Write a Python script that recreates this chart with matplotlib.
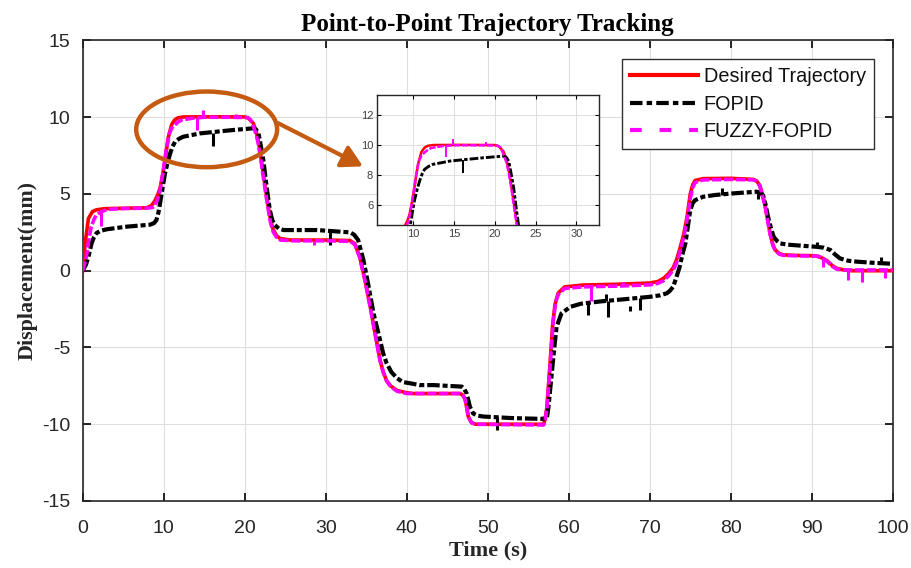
import numpy as np
import matplotlib
matplotlib.use('Agg')
import matplotlib.pyplot as plt
from matplotlib.patches import Ellipse, FancyArrowPatch
from matplotlib.lines import Line2D

# ---------------- data ----------------
t_des = [0, 0.3, 0.7, 1.2, 1.7, 2.5, 3.0, 5, 7.9, 8.5, 8.9, 9.3, 9.55, 9.85, 10.16, 10.57, 11.0, 11.4,
         11.8, 12.5, 16, 20.0, 20.45, 21.06, 21.4, 21.7, 22.0, 22.3, 22.6, 22.9, 23.2, 23.5, 23.9, 24.36,
         25.6, 30, 33.0, 33.6, 34.2, 34.85, 35.5, 36.1, 36.7, 37.1, 37.5, 38.0, 38.8, 40.0, 40.8, 44, 46.6,
         46.9, 47.2, 47.4, 47.6, 48.0, 48.5, 52, 56.9, 57.1, 57.3, 57.7, 58.0, 58.3, 58.7, 59.5, 61.8, 66,
         70, 71.0, 71.7, 72.3, 72.9, 73.3, 73.7, 74.2, 74.6, 75.0, 75.3, 75.6, 76.6, 80, 82.8, 83.2, 83.6,
         84.2, 84.85, 85.2, 85.5, 86.0, 86.5, 88, 90.2, 90.6, 91.2, 91.9, 92.5, 93.1, 94.0, 94.7, 97, 100]
y_des = [0, 1.8, 3.4, 3.85, 3.97, 4.03, 4.05, 4.07, 4.1, 4.25, 4.55, 5.0, 5.4, 6.2, 7.2, 8.7, 9.55, 9.85,
         9.97, 10.02, 10.03, 10.02, 9.95, 9.6, 9.1, 8.4, 7.4, 6.3, 5.2, 4.2, 3.3, 2.7, 2.3, 2.1,
         2.0, 2.0, 1.97, 1.75, 0.9, -0.6, -2.35, -4.1, -5.8, -6.6, -7.15, -7.5, -7.8, -7.95, -8.0, -8.0, -8.0,
         -8.1, -8.35, -8.9, -9.5, -9.9, -10.0, -10.0, -10.0, -9.6, -8.9, -6.0, -3.6, -2.2, -1.45, -1.05, -0.93, -0.88,
         -0.8, -0.7, -0.5, -0.2, 0.2, 0.7, 1.4, 2.4, 3.5, 5.0, 5.6, 5.88, 6.0, 6.02, 5.95, 5.85, 5.55,
         4.4, 2.45, 1.7, 1.35, 1.12, 1.03, 1.0, 0.98, 0.95, 0.85, 0.65, 0.35, 0.15, 0.05, 0.0, 0.0, 0.0]

t_fopid = [0, 0.4, 0.7, 1.1, 1.4, 1.7, 2.2, 2.96, 5.4, 8.3, 8.8, 9.1, 9.35, 9.55, 9.85, 10.16, 10.5, 10.8,
           11.1, 11.4, 11.9, 12.4, 14.5, 18.6, 21.06, 21.4, 21.7, 22.0, 22.3, 22.7, 23.1, 23.4, 23.7, 24.2,
           24.8, 28.9, 33.0, 33.5, 34.0, 34.65, 35.3, 35.9, 36.7, 37.1, 37.5, 38.1, 38.8, 39.5, 40.4, 41.6,
           43.3, 46.8, 47.1, 47.4, 47.8, 48.2, 48.8, 49.5, 53, 56.5, 57.3, 57.5, 57.9, 58.3, 58.5, 59.1, 60.2,
           61.5, 63.9, 67, 70, 71.3, 72.1, 72.5, 72.9, 73.3, 73.7, 74.0, 74.4, 75.0, 75.3, 75.6, 76.6, 78,
           80.3, 83.2, 83.6, 84.0, 84.3, 84.6, 85.0, 85.3, 85.7, 86.1, 87, 89, 90.6, 91.5, 92.3, 92.9, 93.5,
           94.5, 95.6, 97.5, 100]
y_fopid = [0, 0.4, 0.9, 1.8, 2.2, 2.45, 2.6, 2.7, 2.87, 3.0, 3.1, 3.3, 3.8, 4.4, 5.4, 6.35, 7.1, 7.65,
           8.1, 8.4, 8.6, 8.73, 8.95, 9.17, 9.28, 9.2, 8.95, 8.1, 7.2, 5.47, 3.95, 3.3, 2.98, 2.75,
           2.65, 2.65, 2.5, 2.35, 2.0, 0.7, -1.04, -2.78, -4.5, -5.4, -6.0, -6.6, -7.0, -7.25, -7.33, -7.45,
           -7.45, -7.55, -7.7, -8.0, -8.86, -9.3, -9.45, -9.5, -9.6, -9.65, -9.62, -8.86, -6.7, -4.6, -3.65, -2.78, -2.35,
           -2.15, -2.0, -1.85, -1.7, -1.6, -1.47, -1.3, -1.04, -0.4, 0.26, 1.0, 1.78, 3.95, 4.4, 4.6, 4.82, 4.93,
           5.04, 5.15, 5.1, 4.9, 4.3, 3.52, 2.7, 2.21, 1.95, 1.78, 1.7, 1.62, 1.56, 1.5, 1.35, 1.05, 0.8,
           0.65, 0.59, 0.52, 0.45]

t_fuzzy = [0, 0.45, 0.75, 1.06, 1.4, 1.68, 2.3, 3.1, 5, 7.9, 8.6, 8.9, 9.2, 9.5, 9.9, 10.3, 10.7, 11.0,
           11.35, 11.8, 12.2, 13.4, 15, 18, 20.3, 20.7, 21.06, 21.4, 21.7, 22.0, 22.3, 22.6, 22.9, 23.2,
           23.5, 23.9, 24.4, 26, 30, 33.0, 33.6, 34.2, 34.85, 35.5, 36.1, 36.7, 37.1, 37.5, 38.0, 38.8, 40.0,
           44, 46.6, 46.9, 47.2, 47.4, 47.6, 48.0, 48.5, 56.9, 57.1, 57.3, 57.7, 58.1, 58.4, 58.7, 59.5, 61.8,
           66, 70, 71.0, 71.7, 72.3, 72.9, 73.3, 73.7, 74.2, 74.6, 75.0, 75.3, 75.6, 76.6, 80, 82.8, 83.2,
           83.6, 84.2, 84.85, 85.2, 85.5, 86.0, 86.5, 88, 90.8, 91.4, 91.9, 92.5, 93.1, 94.0, 100]
y_fuzzy = [0, 0.9, 2.0, 2.87, 3.35, 3.63, 3.85, 4.0, 4.05, 4.08, 4.12, 4.25, 4.6, 5.1, 6.35, 7.86, 8.95, 9.3,
           9.5, 9.7, 9.82, 9.93, 10.0, 10.0, 9.98, 9.85, 9.4, 8.9, 8.2, 7.2, 6.1, 5.0, 4.0, 3.1,
           2.55, 2.2, 2.0, 1.95, 1.95, 1.92, 1.7, 0.85, -0.65, -2.4, -4.15, -5.85, -6.6, -7.15, -7.55, -7.85, -8.0,
           -8.0, -8.0, -8.1, -8.35, -8.9, -9.5, -9.9, -10.0, -10.05, -9.7, -9.0, -6.2, -3.2, -2.0, -1.55, -1.15, -1.05,
           -1.0, -0.92, -0.82, -0.65, -0.35, 0.05, 0.5, 1.15, 2.2, 3.3, 4.7, 5.4, 5.75, 5.92, 5.95, 5.92, 5.82,
           5.5, 4.3, 2.4, 1.65, 1.3, 1.08, 1.0, 0.98, 0.95, 0.8, 0.6, 0.3, 0.1, 0.05, 0.05]

# measurement spikes: time, start value, tip value
spk_fopid_t = [16.05, 30.5, 51.1, 62.4, 64.6, 64.9, 67.6, 68.8, 78.9, 83.4, 90.6, 98.6]
spk_fopid_a = [9.0, 2.62, -9.55, -2.1, -2.0, -2.0, -2.3, -1.8, 4.95, 5.12, 1.56, 0.48]
spk_fopid_b = [8.15, 1.67, -10.4, -2.9, -1.5, -3.0, -2.6, -2.56, 5.37, 4.7, 1.9, 0.9]

spk_fuzzy_t = [2.3, 14.07, 14.9, 18.9, 28.5, 62.8, 66.7, 91.4, 94.5, 96.2, 99.0]
spk_fuzzy_a = [3.85, 9.95, 10.0, 10.0, 1.95, -1.05, -1.0, 0.8, 0.05, 0.05, 0.05]
spk_fuzzy_b = [2.9, 9.2, 10.45, 10.2, 1.67, -2.0, -0.72, 0.26, -0.6, -0.72, -0.5]

x_ticks = [0, 10, 20, 30, 40, 50, 60, 70, 80, 90, 100]
y_ticks = [-15, -10, -5, 0, 5, 10, 15]
inset_xticks = [10, 15, 20, 25, 30]
inset_yticks = [6, 8, 10, 12]
labels = ['Desired Trajectory', 'FOPID', 'FUZZY-FOPID']

# ---------------- styles ----------------
RED = '#ff0000'
MAG = '#ff00ff'
BRN = '#c55a11'
TXT = '#262626'
SERIF = ['Liberation Serif', 'DejaVu Serif']
SANS = ['Liberation Sans', 'DejaVu Sans']
plt.rcParams['font.family'] = SANS
plt.rcParams['axes.unicode_minus'] = False

fig = plt.figure(figsize=(9.12, 5.68), dpi=100)
ax = fig.add_axes([0.0907, 0.118, 0.8882, 0.8107])


def draw(a, lw_r, lw_k, lw_m, spike_lw):
    a.plot(t_des, y_des, color=RED, lw=lw_r, solid_joinstyle='round', zorder=3)
    a.plot(t_fopid, y_fopid, color='k', lw=lw_k, dashes=(3.0, 0.7, 1.2, 0.7), zorder=4)
    a.vlines(spk_fopid_t, spk_fopid_a, spk_fopid_b, color='k', lw=spike_lw, zorder=4)
    a.plot(t_fuzzy, y_fuzzy, color=MAG, lw=lw_m, dashes=(2.6, 0.7), zorder=5)
    a.vlines(spk_fuzzy_t, spk_fuzzy_a, spk_fuzzy_b, color=MAG, lw=spike_lw, zorder=5)


draw(ax, 2.6, 3.0, 2.6, 2.2)

ax.set_xlim(0, 100)
ax.set_ylim(-15, 15)
ax.set_xticks(x_ticks)
ax.set_yticks(y_ticks)
ax.grid(True, color='#dedede', lw=0.8)
ax.set_axisbelow(True)
ax.tick_params(direction='in', length=6, width=1.2, top=True, right=True,
               labelsize=14, labelcolor=TXT)
ax.tick_params(axis='x', pad=14)
ax.tick_params(axis='y', pad=9)
for s in ax.spines.values():
    s.set_color(TXT)
    s.set_linewidth(1.2)

ax.set_title('Point-to-Point Trajectory Tracking', fontfamily=SERIF, fontweight='bold',
             fontsize=18, pad=7, color='k')
ax.set_xlabel('Time (s)', fontfamily=SERIF, fontweight='bold', fontsize=16, labelpad=2, color=TXT)
ax.set_ylabel('Displacement(mm)', fontfamily=SERIF, fontweight='bold', fontsize=15.8, labelpad=3, color=TXT)

# legend
handles = [Line2D([], [], color=RED, lw=3),
           Line2D([], [], color='k', lw=3, dashes=(3.0, 1.0, 1.3, 1.0)),
           Line2D([], [], color=MAG, lw=3, dashes=(2.8, 4.3))]
leg = ax.legend(handles, labels, loc='upper right', bbox_to_anchor=(0.977, 0.96),
                borderaxespad=0, fontsize=14.3, handlelength=3.4, handletextpad=0.3,
                labelspacing=0.42, borderpad=0.42, fancybox=False, framealpha=1)
leg.get_frame().set_edgecolor('#303030')
leg.get_frame().set_linewidth(1.0)
for txt in leg.get_texts():
    txt.set_color('#111111')

# ellipse + arrow highlight
ax.add_patch(Ellipse((15.3, 9.21), 17.4, 4.93, fill=False, ec=BRN, lw=3.2, zorder=7))
ax.add_patch(FancyArrowPatch((24.1, 9.62), (34.6, 6.8), arrowstyle='-|>,head_length=0.9,head_width=0.5',
                             mutation_scale=14, color=BRN, lw=3, shrinkA=0, shrinkB=0, zorder=7))

# inset
axi = fig.add_axes([0.4137, 0.6033, 0.2434, 0.2289])
draw(axi, 1.8, 2.1, 1.8, 1.4)
axi.set_xlim(5.6, 32.8)
axi.set_ylim(4.67, 13.33)
axi.set_xticks(inset_xticks)
axi.set_yticks(inset_yticks)
axi.grid(True, color='#dedede', lw=0.7)
axi.set_axisbelow(True)
axi.tick_params(direction='in', length=3, width=0.8, top=True, right=True,
                labelsize=8, labelcolor='#404040', pad=3)
for s in axi.spines.values():
    s.set_color(TXT)
    s.set_linewidth(1.0)
axi.set_zorder(10)

fig.savefig('out.png', dpi=100)
